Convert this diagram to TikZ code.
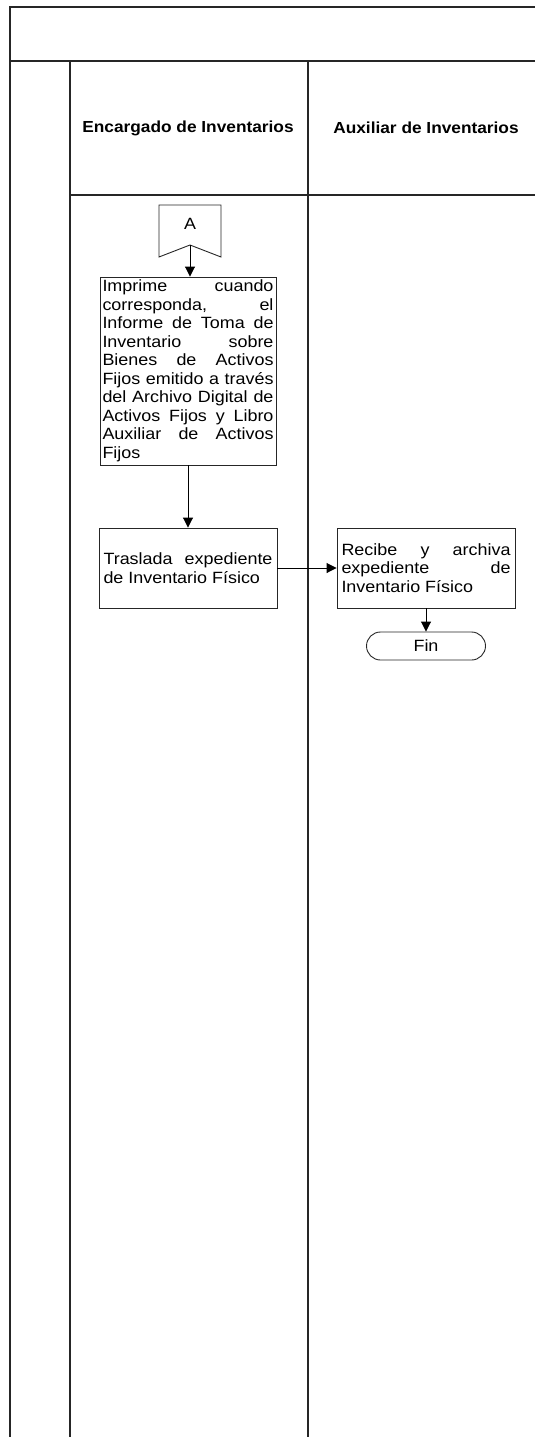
\documentclass[tikz,border=0pt]{standalone}
\usepackage{fontspec}
\usetikzlibrary{arrows.meta,shapes.misc}
\newfontfamily\bodyf[FakeStretch=1.1]{Liberation Sans}
\newfontfamily\headf[FakeStretch=1.08]{Liberation Sans}
\begin{document}
\begin{tikzpicture}[x=1pt,y=-1pt,
  lane/.style={line width=1.3pt,draw=black!85},
  box/.style={draw=black!85,line width=0.9pt,inner sep=0pt,align=justify,
    font=\bodyf\fontsize{16.3}{18.5}\selectfont},
  arr/.style={line width=0.9pt,-{Triangle[length=10pt,width=10pt]}},
  head/.style={font=\headf\bfseries\fontsize{16}{18}\selectfont},
  txt/.style={font=\bodyf\fontsize{16.3}{18.5}\selectfont}]
\useasboundingbox (0,0) rectangle (535,1437);
% frame
\draw[lane] (535,7) -- (10,7) -- (10,1437);
\draw[lane] (10,61) -- (535,61);
\draw[lane] (70,61) -- (70,1437);
\draw[lane] (308,61) -- (308,1437);
\draw[lane] (70,195) -- (535,195);
\node[head] (h1) at (188,128) {Encargado de Inventarios};
\node[head] (h2) at (426,128) {Auxiliar de Inventarios};
% off-page connector
\draw[draw=black!85,line width=0.9pt] (159,205) -- (221,205) -- (221,257) -- (190,245) -- (159,257) -- cycle;
\node[txt] (A) at (190,224) {A};
\coordinate (Abot) at (190,245);
% boxes
\node[box,minimum width=176pt,minimum height=188pt,text width=171pt] (b1) at (188,371)
{Imprime cuando\linebreak corresponda, el\linebreak Informe de Toma de\linebreak Inventario sobre\linebreak Bienes de Activos\linebreak Fijos emitido a través\linebreak del Archivo Digital de\linebreak Activos Fijos y Libro\linebreak Auxiliar de Activos\linebreak Fijos};
\node[box,minimum width=178pt,minimum height=80pt,text width=169pt] (b2) at (188,568)
{Traslada expediente\linebreak de Inventario Físico};
\node[box,minimum width=178pt,minimum height=80pt,text width=169pt] (b3) at (426,568)
{Recibe y archiva\linebreak expediente de\linebreak Inventario Físico};
\node[draw=black!85,line width=0.9pt,rounded rectangle,minimum width=119pt,minimum height=28pt,inner sep=0pt,txt] (fin) at (426,646) {Fin};
% connectors
\draw[arr] (Abot) -- (Abot |- b1.north);
\draw[arr] (b1.south) -- (b2.north);
\draw[arr] (b2.east) -- (b3.west);
\draw[arr] (b3.south) -- (fin.north);
\end{tikzpicture}
\end{document}
